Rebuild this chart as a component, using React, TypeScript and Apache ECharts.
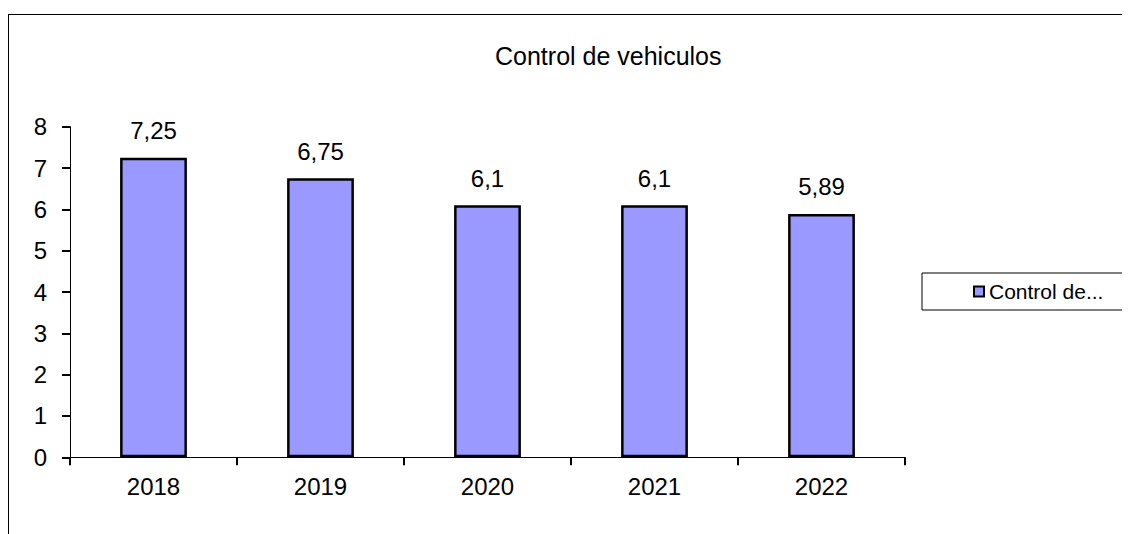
import React, { useEffect, useRef } from "react";
import * as echarts from "echarts";

const TITLE = "Control de vehiculos";
const SERIES_NAME = "Control de vehiculos";
const LEGEND_LABEL = "Control de...";
const categories = ["2018", "2019", "2020", "2021", "2022"];
const values = [7.25, 6.75, 6.1, 6.1, 5.89];
const yTicks = { min: 0, max: 8, interval: 1 };

const FONT = "'Liberation Sans', Arial, sans-serif";

export default function App() {
  const ref = useRef<HTMLDivElement>(null);
  useEffect(() => {
    if (!ref.current) return;
    const chart = echarts.init(ref.current, undefined, { renderer: "svg" });
    chart.setOption({
      animation: false,
      textStyle: { fontFamily: FONT, color: "#000" },
      title: {
        text: TITLE,
        left: 482,
        top: 30,
        textStyle: { fontFamily: FONT, fontSize: 25, fontWeight: "normal", color: "#000" },
      },
      legend: {
        left: 914,
        top: 265,
        orient: "vertical",
        padding: [8, 60, 8, 51],
        borderColor: "#000",
        borderWidth: 1,
        itemWidth: 10,
        itemHeight: 10,
        icon: "rect",
        formatter: () => LEGEND_LABEL,
        textStyle: { fontFamily: FONT, fontSize: 21, color: "#000" },
      },
      grid: { left: 62, right: 225, top: 118.7, bottom: 76.7, containLabel: false },
      xAxis: {
        type: "category",
        data: categories,
        axisLine: { show: true, lineStyle: { color: "#000", width: 1 } },
        axisTick: { show: true, length: 8, lineStyle: { color: "#000", width: 2 } },
        axisLabel: { fontFamily: FONT, fontSize: 24, color: "#000", margin: 17 },
        splitLine: { show: false },
      },
      yAxis: {
        type: "value",
        min: yTicks.min,
        max: yTicks.max,
        interval: yTicks.interval,
        axisLine: { show: true, lineStyle: { color: "#000", width: 1 } },
        axisTick: { show: true, length: 8, lineStyle: { color: "#000", width: 2 } },
        axisLabel: { fontFamily: FONT, fontSize: 24, color: "#000", margin: 23 },
        splitLine: { show: false },
      },
      series: [
        {
          name: SERIES_NAME,
          type: "bar",
          data: values,
          barWidth: "40%",
          itemStyle: { color: "#9999FF", borderColor: "#000", borderWidth: 2.5 },
          label: {
            show: true,
            position: "top",
            distance: 15,
            fontFamily: FONT,
            fontSize: 24,
            color: "#000",
            formatter: (p: any) => String(p.value).replace(".", ","),
          },
        },
      ],
      graphic: [
        { type: "line", shape: { x1: 0.5, y1: 6, x2: 0.5, y2: 526 }, style: { stroke: "#000", lineWidth: 1 } },
        { type: "line", shape: { x1: 0, y1: 6.5, x2: 1122, y2: 6.5 }, style: { stroke: "#000", lineWidth: 1 } },
      ],
    });
    return () => chart.dispose();
  }, []);
  return <div ref={ref} style={{ width: 1122, height: 526 }} />;
}
